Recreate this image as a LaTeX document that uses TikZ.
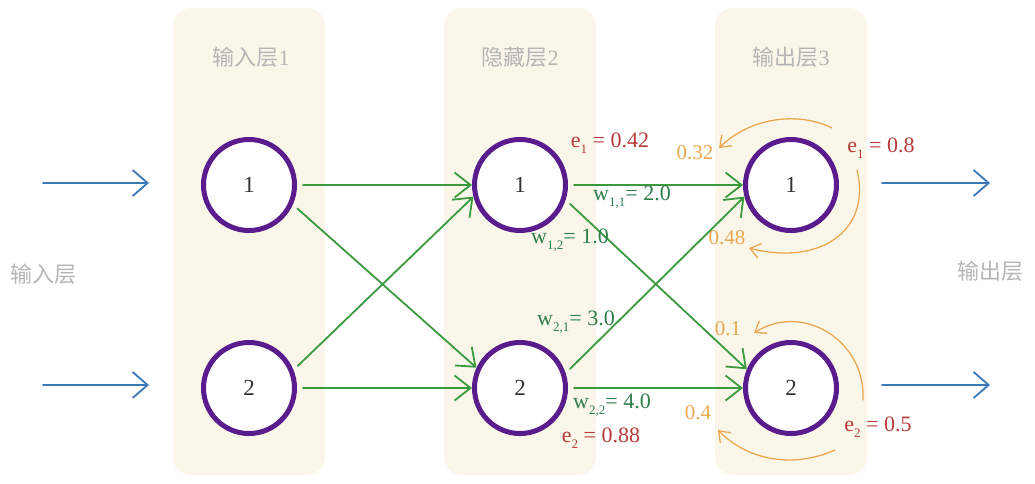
\documentclass[tikz,border=0pt]{standalone}
\usepackage{fontspec}
\setmainfont{Liberation Serif}
\newfontfamily\cjk{Noto Sans CJK SC}
\usetikzlibrary{arrows.meta}
\definecolor{bgcol}{HTML}{FAF7EA}
\definecolor{titlegray}{HTML}{B5B5B5}
\definecolor{neupurple}{HTML}{5A1C8C}
\definecolor{edgegreen}{HTML}{3C9A3E}
\definecolor{wgreen}{HTML}{2F7D4A}
\definecolor{ered}{HTML}{B83A3A}
\definecolor{oorange}{HTML}{EBA850}
\definecolor{iblue}{HTML}{3A78BA}
\newcommand{\lsub}[1]{\raisebox{-0.3em}{\fontsize{13}{13}\selectfont #1}}
\tikzset{
  layerbg/.style={fill=bgcol, draw=none, rounded corners=18pt},
  neuron/.style={circle, draw=neupurple, line width=5pt, fill=white, minimum size=91pt, inner sep=0pt, text=black!80, font=\fontsize{23}{23}\selectfont},
  ltitle/.style={text=titlegray, inner sep=0pt, font=\cjk\fontsize{22}{22}\selectfont},
  wlabel/.style={text=wgreen, inner sep=0pt, font=\fontsize{22}{22}\selectfont},
  elabel/.style={text=ered, inner sep=0pt, font=\fontsize{22}{22}\selectfont},
  olabel/.style={text=oorange, inner sep=0pt, font=\fontsize{21}{21}\selectfont},
  garrow/.style={draw=edgegreen, line width=1.8pt, line cap=round, -{Straight Barb[length=16pt,width=25pt]}},
  barrow/.style={draw=iblue, line width=1.8pt, line cap=round, -{Straight Barb[length=15pt,width=26pt]}},
  oarrow/.style={draw=oorange, line width=1.3pt, line cap=round, -{Straight Barb[length=10pt,width=15pt]}}
}
\begin{document}
\begin{tikzpicture}[x=1pt, y=-1pt]
\useasboundingbox (0,0) rectangle (1035,483);
\fill[white] (0,0) rectangle (1035,483);
% layer backgrounds
\fill[layerbg] (173,8) rectangle (325,475);
\fill[layerbg] (444,8) rectangle (596,475);
\fill[layerbg] (715,8) rectangle (867,475);
% titles
\node[ltitle] (t1) at (251,57) {输入层\fontspec{Liberation Serif}1};
\node[ltitle] (t2) at (520,57) {隐藏层\fontspec{Liberation Serif}2};
\node[ltitle] (t3) at (791,57) {输出层\fontspec{Liberation Serif}3};
\node[ltitle] (tin) at (43,274) {输入层};
\node[ltitle] (tout) at (990,271) {输出层};
% neurons
\node[neuron] (a1) at (249,185) {1};
\node[neuron] (a2) at (249,388) {2};
\node[neuron] (b1) at (520,185) {1};
\node[neuron] (b2) at (520,388) {2};
\node[neuron] (c1) at (791,185) {1};
\node[neuron] (c2) at (791,388) {2};
% blue input/output arrows
\coordinate (i1) at (43,183);
\coordinate (i1e) at (149,183);
\coordinate (i2) at (43,385);
\coordinate (i2e) at (149,385);
\coordinate (o1s) at (882,183);
\coordinate (o1e) at (990,183);
\coordinate (o2s) at (882,385);
\coordinate (o2e) at (990,385);
\draw[barrow] (i1) -- (i1e);
\draw[barrow] (i2) -- (i2e);
\draw[barrow] (o1s) -- (o1e);
\draw[barrow] (o2s) -- (o2e);
% green connections layer 1 -> 2
\draw[garrow, shorten <=6pt] (a1.east) -- (b1.west);
\draw[garrow, shorten <=6pt] (a1.-24) -- (b2.155);
\draw[garrow, shorten <=6pt] (a2.22) -- (b1.-166);
\draw[garrow, shorten <=6pt] (a2.east) -- (b2.west);
% green connections layer 2 -> 3
\draw[garrow, shorten <=6pt] (b1.east) -- (c1.west);
\draw[garrow, shorten <=6pt] (b1.-18) -- (c2.157);
\draw[garrow, shorten <=6pt] (b2.18) -- (c1.-166);
\draw[garrow, shorten <=6pt] (b2.east) -- (c2.west);
% orange backprop arcs
\coordinate (p1s) at (832,128);
\coordinate (p1e) at (719,148);
\coordinate (p2s) at (857,170);
\coordinate (p2e) at (749,248);
\coordinate (p3s) at (863,400);
\coordinate (p3e) at (754,333);
\coordinate (p4s) at (835,450);
\coordinate (p4e) at (718,430);
\draw[oarrow] (p1s) .. controls (800,112) and (752,116) .. (p1e);
\draw[oarrow] (p2s) .. controls (872,232) and (818,266) .. (p2e);
\draw[oarrow] (p3s) .. controls (866,340) and (802,302) .. (p3e);
\draw[oarrow] (p4s) .. controls (790,470) and (745,458) .. (p4e);
% labels
\node[elabel] (e1h) at (610,143) {e\lsub{1} = 0.42};
\node[elabel] (e2h) at (601,438) {e\lsub{2} = 0.88};
\node[elabel] (e1o) at (881,148) {e\lsub{1} = 0.8};
\node[elabel] (e2o) at (878,427) {e\lsub{2} = 0.5};
\node[wlabel] (w11) at (632,197) {w\lsub{1,1}= 2.0};
\node[wlabel] (w12) at (570,240) {w\lsub{1,2}= 1.0};
\node[wlabel] (w21) at (576,322) {w\lsub{2,1}= 3.0};
\node[wlabel] (w22) at (612,405) {w\lsub{2,2}= 4.0};
\node[olabel] (o32) at (695,153) {0.32};
\node[olabel] (o48) at (727,238) {0.48};
\node[olabel] (o1) at (728,329) {0.1};
\node[olabel] (o4) at (698,413) {0.4};
\end{tikzpicture}
\end{document}
